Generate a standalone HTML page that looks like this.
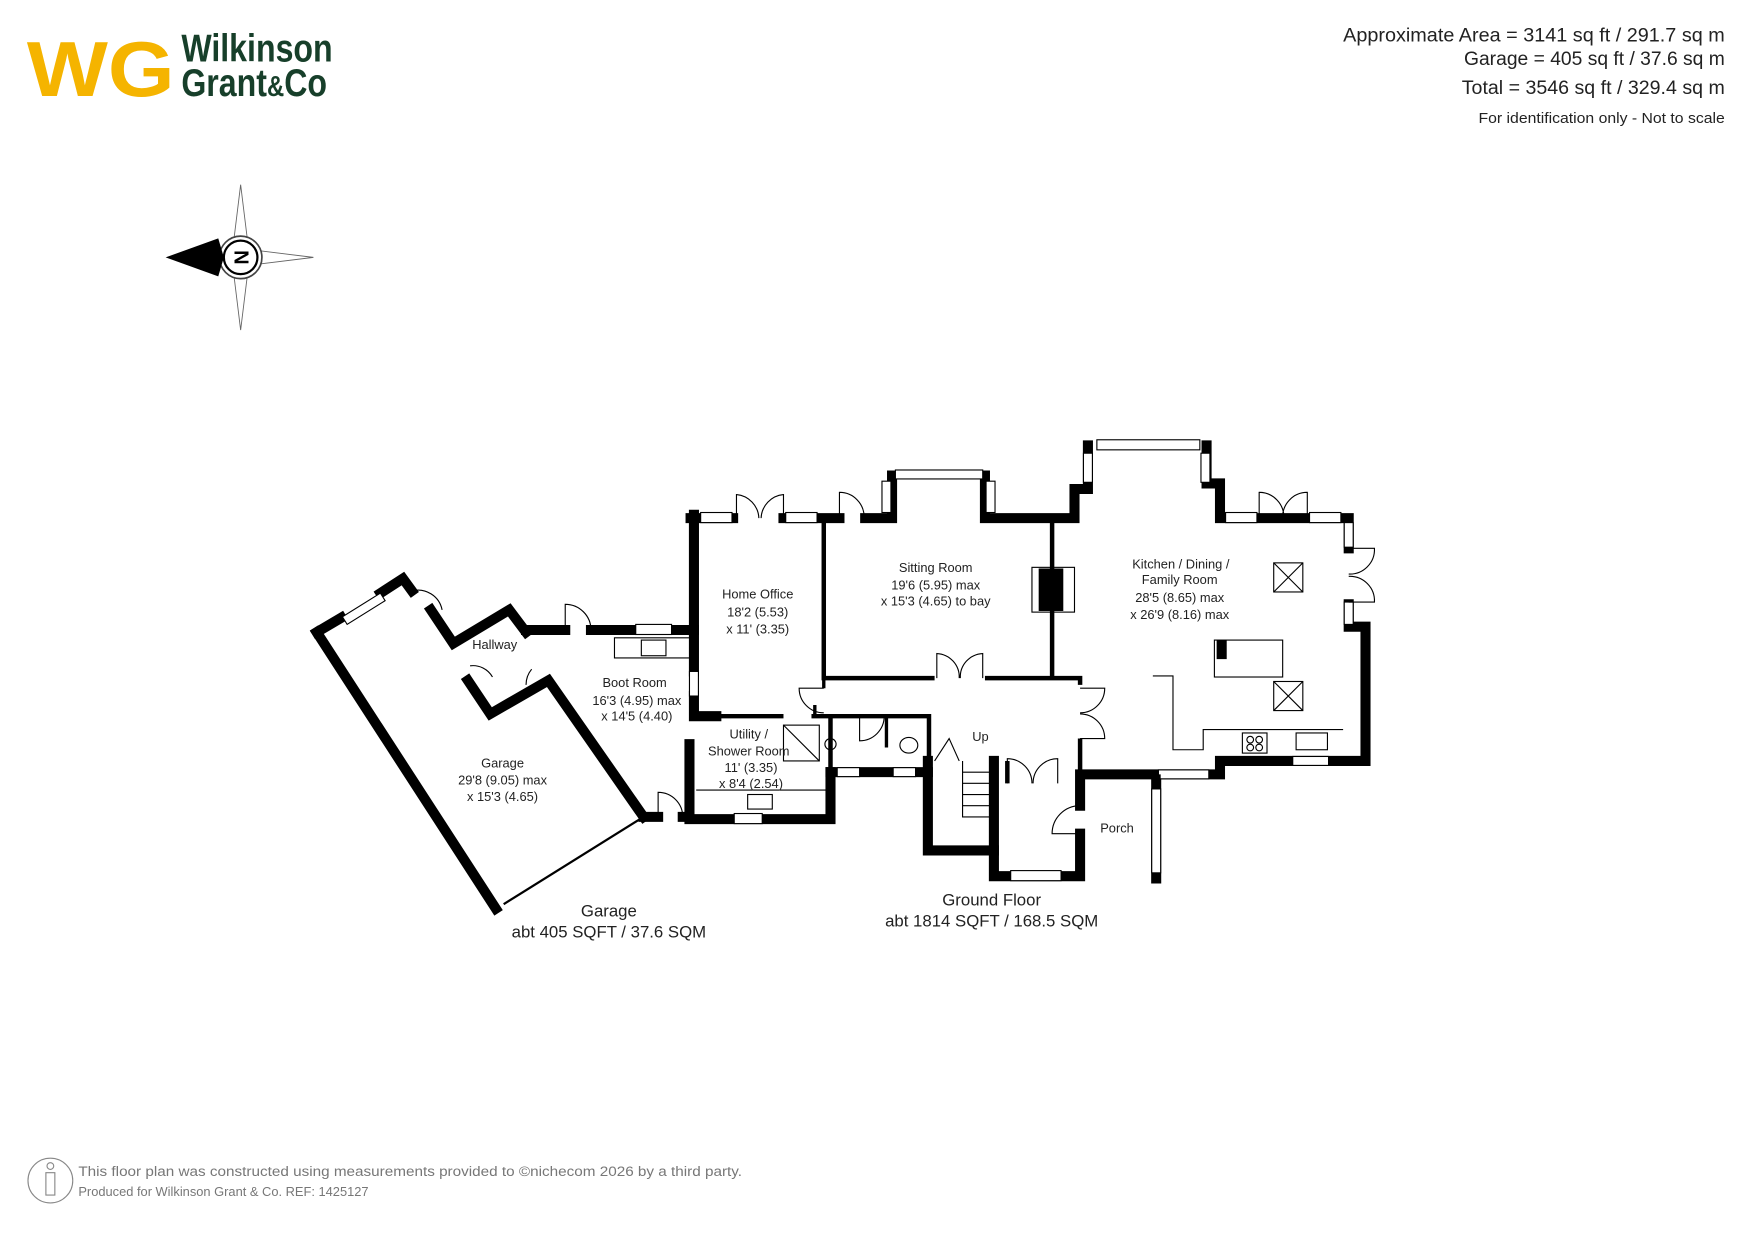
<!DOCTYPE html>
<html><head><meta charset="utf-8"><style>
html,body{margin:0;padding:0;background:#fff;}
svg{display:block;}
text{font-family:"Liberation Sans",sans-serif;}
</style></head><body>
<svg width="1755" height="1241" viewBox="0 0 1568 1109" preserveAspectRatio="none" xmlns="http://www.w3.org/2000/svg">
<!-- Logo -->
<text x="24" y="86" font-size="70" font-weight="bold" fill="#f5b400" font-family="Liberation Serif" textLength="132" lengthAdjust="spacingAndGlyphs">WG</text>
<g transform="translate(162 0) scale(0.82 1)">
<text x="0" y="55" font-size="35" font-weight="bold" fill="#173f2a" font-family="Liberation Serif">Wilkinson</text>
<text x="0" y="86" font-size="35" font-weight="bold" fill="#173f2a" font-family="Liberation Serif">Grant<tspan font-size="26">&amp;</tspan>Co</text>
</g>
<!-- top right -->
<g fill="#222" text-anchor="end" font-size="17">
<text x="1541" y="37" textLength="341" lengthAdjust="spacingAndGlyphs">Approximate Area = 3141 sq ft / 291.7 sq m</text>
<text x="1541" y="58" textLength="233" lengthAdjust="spacingAndGlyphs">Garage = 405 sq ft / 37.6 sq m</text>
<text x="1541" y="84" textLength="235" lengthAdjust="spacingAndGlyphs">Total = 3546 sq ft / 329.4 sq m</text>
<text x="1541" y="110" font-size="13" textLength="220" lengthAdjust="spacingAndGlyphs">For identification only - Not to scale</text>
</g>
<!-- compass -->
<g stroke="#666" stroke-width="0.8" fill="#fff">
<polygon points="215,165 222,222 215,230 208,222"/>
<polygon points="215,295 222,238 215,230 208,238"/>
<polygon points="280,230 223,223 215,230 223,237"/>
<circle cx="215" cy="230" r="19" stroke="#444" stroke-width="1.5"/>
</g>
<polygon points="148,230 195,213 200,230 195,247" fill="#000"/>
<circle cx="215" cy="230" r="15" fill="#fff" stroke="#000" stroke-width="2"/>
<text x="215" y="237" font-size="18" font-weight="bold" text-anchor="middle" transform="rotate(-90 215 230)">N</text>

<!-- Walls -->
<g stroke="#000" stroke-width="9" fill="none" stroke-linecap="square">
<path d="M283,565 L443,812"/>
<path d="M283,565 L305,552"/>
<path d="M340,530 L360,517 L368,528"/>
<path d="M385,545 L405,575 L455,545 L470,565"/>
<path d="M418,608 L438,638 L490,608 L575,730"/>
<path d="M470,563 L505,563 M528,563 L568,563 M600,563 L620,563"/>
<path d="M620,460 L620,600 M620,622 L620,640 L640,640"/>
<path d="M616,665 L616,732 L742,732 L742,690"/>
<path d="M617,463 L655,463 M700,463 L750,463 M773,463 L797,463 L797,425 M880,425 L880,463 L960,463 L960,437 L972,437 L972,398"/>
<path d="M1078,398 L1078,432 L1090,432 L1090,463 L1205,463 L1205,490"/>
<path d="M1205,540 L1205,560 L1220,560 L1220,680 L1090,680 L1090,692 L965,692 L965,720"/>
<path d="M965,745 L965,783 L888,783 L888,680"/>
<path d="M829,680 L829,760 L888,760"/>
<path d="M742,690 L829,690"/>
<path d="M575,730 L588,730 M610,730 L616,730"/>
<path d="M1033,696 L1033,785"/>
</g>
<!-- windows -->
<g fill="#fff" stroke="#000" stroke-width="1">
<rect x="626" y="458" width="28" height="9"/><rect x="702" y="458" width="28" height="9"/>
<rect x="800" y="420" width="78" height="8"/><rect x="788" y="430" width="8" height="28"/><rect x="881" y="430" width="8" height="28"/>
<rect x="980" y="393" width="92" height="9"/><rect x="968" y="405" width="8" height="26"/><rect x="1073" y="405" width="8" height="26"/>
<rect x="1095" y="458" width="28" height="9"/><rect x="1170" y="458" width="28" height="9"/>
<rect x="1201" y="467" width="8" height="22"/><rect x="1201" y="538" width="8" height="20"/>
<rect x="1155" y="676" width="32" height="8"/><rect x="1035" y="688" width="45" height="8"/>
<rect x="1029" y="705" width="8" height="75"/><rect x="903" y="778" width="45" height="9"/>
<rect x="748" y="686" width="20" height="8"/><rect x="798" y="686" width="20" height="8"/>
<rect x="656" y="727" width="25" height="9"/><rect x="568" y="558" width="32" height="9"/>
<rect x="616" y="600" width="8" height="22"/>
<rect x="305" y="540" width="40" height="8" transform="rotate(-32 325 544)"/>
</g>
<!-- interior -->
<g stroke="#000" fill="none">
<path d="M736,463 L736,606 L835,606 M880,606 L965,606 L965,612" stroke-width="4"/>
<path d="M940,463 L940,606" stroke-width="4"/>
<path d="M640,640 L700,640 M725,640 L742,640 L742,690 M742,640 L830,640 L830,690" stroke-width="4"/>
<path d="M792,640 L792,668 M736,606 L736,615 M728,630 L728,640" stroke-width="3"/>
<path d="M965,660 L965,692 M900,680 L900,700" stroke-width="4"/>
<path d="M575,730 L450,808" stroke-width="2"/>
<path d="M549,570 L617,570 L617,588 L549,588 Z M622,706 L740,706" stroke-width="1"/>
<path d="M1030,604 L1048,604 L1048,670 L1075,670 L1075,652 L1200,652" stroke-width="1"/>
<rect x="1085" y="572" width="61" height="33" stroke-width="1"/>
<rect x="1138" y="503" width="26" height="26" stroke-width="1"/><path d="M1138,503 L1164,529 M1164,503 L1138,529" stroke-width="1"/>
<rect x="1138" y="609" width="26" height="26" stroke-width="1"/><path d="M1138,609 L1164,635 M1164,609 L1138,635" stroke-width="1"/>
<rect x="922" y="507" width="38" height="40" stroke-width="1"/>
<path d="M860,680 L860,730 L888,730 M860,690 L888,690 M860,700 L888,700 M860,710 L888,710 M860,720 L888,720" stroke-width="1"/>
<rect x="700" y="648" width="32" height="32" stroke-width="1"/><path d="M700,648 L732,680" stroke-width="1"/>
<path d="M658,463 L658,442 A22,22 0 0 1 678,463 M700,463 L700,442 A22,22 0 0 0 680,463" stroke-width="1"/>
<path d="M750,463 L750,440 A22,22 0 0 1 772,463" stroke-width="1"/>
<path d="M837,606 L837,584 A21,21 0 0 1 857,606 M878,606 L878,584 A21,21 0 0 0 858,606" stroke-width="1"/>
<path d="M1125,463 L1125,440 A22,22 0 0 1 1147,463 M1168,463 L1168,440 A22,22 0 0 0 1146,463" stroke-width="1"/>
<path d="M1205,490 L1228,490 A22,22 0 0 1 1205,513 M1205,538 L1228,538 A22,22 0 0 0 1205,515" stroke-width="1"/>
<path d="M965,615 L987,615 A22,22 0 0 1 965,637 M965,660 L987,660 A22,22 0 0 0 965,638" stroke-width="1"/>
<path d="M900,700 L900,678 A22,22 0 0 1 922,700 M945,700 L945,678 A22,22 0 0 0 923,700" stroke-width="1"/>
<path d="M965,745 L940,745 A25,25 0 0 1 965,720" stroke-width="1"/>
<path d="M505,563 L505,540 A23,23 0 0 1 528,563" stroke-width="1"/>
<path d="M588,730 L588,708 A22,22 0 0 1 610,730" stroke-width="1"/>
<path d="M736,615 L714,615 A22,22 0 0 0 736,637" stroke-width="1"/>
<path d="M768,640 L768,662 A22,22 0 0 0 790,640" stroke-width="1"/>
<path d="M368,528 A22,22 0 0 1 395,545 M420,595 A20,20 0 0 1 440,605 M475,598 A22,22 0 0 0 470,612" stroke-width="1"/>
<path d="M835,680 L848,660 L857,680" stroke-width="1"/>
<circle cx="742" cy="665" r="5" stroke-width="1"/><ellipse cx="812" cy="666" rx="8" ry="7" stroke-width="1"/>
<rect x="1110" y="655" width="22" height="18" stroke-width="1"/><rect x="1158" y="655" width="28" height="15" stroke-width="1"/>
<circle cx="1117" cy="661" r="3" stroke-width="1"/><circle cx="1125" cy="661" r="3" stroke-width="1"/><circle cx="1117" cy="668" r="3" stroke-width="1"/><circle cx="1125" cy="668" r="3" stroke-width="1"/>
<rect x="573" y="572" width="22" height="14" stroke-width="1"/><rect x="668" y="710" width="22" height="13" stroke-width="1"/>
</g>
<rect x="1029" y="692" width="8" height="10" fill="#000"/><rect x="1029" y="780" width="8" height="8" fill="#000"/>
<rect x="928" y="508" width="22" height="38" fill="#000"/>
<rect x="1087" y="572" width="9" height="17" fill="#000"/>
<!-- labels -->
<g font-size="11.5" text-anchor="middle" fill="#222">
<text x="442" y="580">Hallway</text>
<text x="567" y="614">Boot Room</text><text x="569" y="630">16'3 (4.95) max</text><text x="569" y="644">x 14'5 (4.40)</text>
<text x="449" y="686">Garage</text><text x="449" y="701">29'8 (9.05) max</text><text x="449" y="716">x 15'3 (4.65)</text>
<text x="677" y="535">Home Office</text><text x="677" y="551">18'2 (5.53)</text><text x="677" y="566">x 11' (3.35)</text>
<text x="836" y="511">Sitting Room</text><text x="836" y="527">19'6 (5.95) max</text><text x="836" y="541">x 15'3 (4.65) to bay</text>
<text x="1055" y="508">Kitchen / Dining /</text><text x="1054" y="522">Family Room</text><text x="1054" y="538">28'5 (8.65) max</text><text x="1054" y="553">x 26'9 (8.16) max</text>
<text x="669" y="660">Utility /</text><text x="669" y="675">Shower Room</text><text x="671" y="690">11' (3.35)</text><text x="671" y="704">x 8'4 (2.54)</text>
<text x="876" y="662">Up</text><text x="998" y="744">Porch</text>
</g>
<g font-size="15" text-anchor="middle" fill="#222">
<text x="544" y="819">Garage</text><text x="544" y="838">abt 405 SQFT / 37.6 SQM</text>
<text x="886" y="809">Ground Floor</text><text x="886" y="828">abt 1814 SQFT / 168.5 SQM</text>
</g>
<!-- footer -->
<circle cx="45" cy="1055" r="20" fill="none" stroke="#888" stroke-width="1"/>
<g fill="none" stroke="#888" stroke-width="1"><circle cx="45" cy="1042" r="3"/><path d="M41,1048 L49,1048 L49,1068 L41,1068 Z"/></g>
<g fill="#777" font-size="12.5"><text x="70" y="1051" textLength="593" lengthAdjust="spacingAndGlyphs">This floor plan was constructed using measurements provided to ©nichecom  2026 by a third party.</text>
<text x="70" y="1069" font-size="11.5">Produced for Wilkinson Grant &amp; Co.     REF: 1425127</text></g>
</svg>
</body></html>
